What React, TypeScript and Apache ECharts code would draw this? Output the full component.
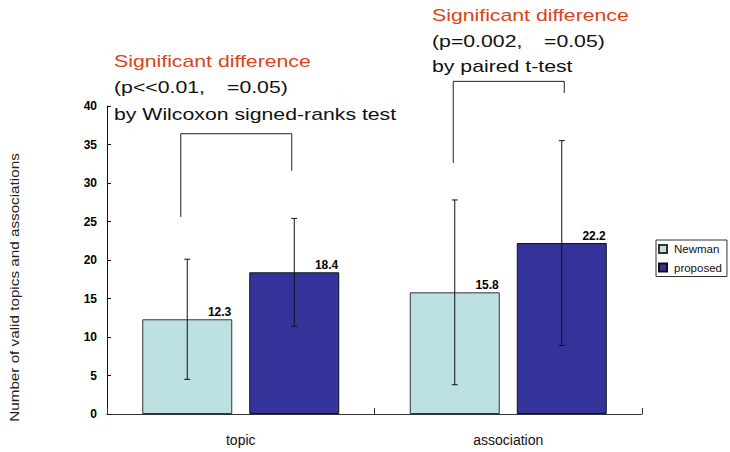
import React, { useEffect, useRef } from "react";
import * as echarts from "echarts";

const categories = ["topic", "association"];
const seriesNames = ["Newman", "proposed"];
const newmanValues = [12.3, 15.8];
const proposedValues = [18.4, 22.2];
const newmanErrLow = [4.5, 3.8];
const newmanErrHigh = [20.1, 27.8];
const proposedErrLow = [11.4, 8.9];
const proposedErrHigh = [25.4, 35.5];
const yMin = 0;
const yMax = 40;
const yInterval = 5;
const bracketLeftEnd = [25.6, 32.6];
const bracketTop = [36.4, 43.2];
const bracketRightEnd = [31.6, 41.7];
const annotationTitles = ["Significant difference", "Significant difference"];
const annotationStatsA = ["(p<<0.01,", "(p=0.002,"];
const annotationStatsB = ["=0.05)", "=0.05)"];
const annotationTests = ["by Wilcoxon signed-ranks test", "by paired t-test"];
const yAxisTitle = "Number of valid topics and associations";

// layout / style constants
const BAR_W = 90;
const BAR_GAP = 17;
const SERIES_OFFSET = (BAR_W + BAR_GAP) / 2;
const BRACKET_LEFT_DX = [-60, -55];
const BRACKET_RIGHT_DX = [51, 56];
const ANNOT_X = [114, 432];
const ANNOT_X2 = [227, 544];
const ANNOT_Y = [
  [61.3, 87.3, 114],
  [15.7, 41.3, 66.7],
];
const FONT = "'Liberation Sans', Arial, sans-serif";
const RED = "#d8431b";

export default function App() {
  const ref = useRef<HTMLDivElement>(null);

  useEffect(() => {
    if (!ref.current) return;
    const chart = echarts.init(ref.current, null, { renderer: "svg" });

    const errData: any[] = [];
    categories.forEach((_, i) => {
      errData.push([i, newmanErrLow[i], newmanErrHigh[i], -1]);
      errData.push([i, proposedErrLow[i], proposedErrHigh[i], 1]);
    });
    const bracketData = categories.map((_, i) => [
      i,
      bracketLeftEnd[i],
      bracketTop[i],
      bracketRightEnd[i],
    ]);

    const barLabel = {
      show: true,
      position: ["100%", 0],
      align: "right",
      verticalAlign: "bottom",
      offset: [-1, -1],
      fontSize: 12,
      fontWeight: "bold",
      fontFamily: FONT,
      color: "#000",
    };

    const graphic: any[] = [];
    for (let g = 0; g < 2; g++) {
      const base = { scaleX: 1.25, silent: true };
      const st = { fontSize: 17, fontFamily: FONT, align: "left", verticalAlign: "middle" };
      graphic.push({ type: "text", x: ANNOT_X[g], y: ANNOT_Y[g][0], ...base, style: { ...st, text: annotationTitles[g], fill: RED } });
      graphic.push({ type: "text", x: ANNOT_X[g], y: ANNOT_Y[g][1], ...base, style: { ...st, text: annotationStatsA[g], fill: "#111" } });
      graphic.push({ type: "text", x: ANNOT_X2[g], y: ANNOT_Y[g][1], ...base, style: { ...st, text: annotationStatsB[g], fill: "#111" } });
      graphic.push({ type: "text", x: ANNOT_X[g], y: ANNOT_Y[g][2], ...base, style: { ...st, text: annotationTests[g], fill: "#111" } });
    }
    graphic.push({
      type: "text",
      x: 15,
      y: 287.5,
      rotation: Math.PI / 2,
      scaleX: 1.22,
      silent: true,
      style: { text: yAxisTitle, fontSize: 12.5, fontFamily: FONT, fill: "#222", align: "center", verticalAlign: "middle" },
    });

    chart.setOption({
      animation: false,
      backgroundColor: "#fff",
      grid: { left: 107, right: 88, top: 106, bottom: 38, containLabel: false },
      legend: {
        data: seriesNames,
        orient: "vertical",
        left: 656,
        top: 240,
        icon: "rect",
        itemWidth: 8,
        itemHeight: 8,
        itemGap: 6.5,
        borderColor: "#333",
        borderWidth: 1,
        borderRadius: 0,
        padding: [3, 5, 3, 2],
        textStyle: { fontSize: 11.5, fontFamily: FONT, color: "#111", padding: [0, 0, 0, 2] },
      },
      xAxis: {
        type: "category",
        data: categories,
        axisLine: { show: true, lineStyle: { color: "#333", width: 1 } },
        axisTick: { show: true, inside: true, length: 6, lineStyle: { color: "#333" } },
        axisLabel: { fontSize: 14, fontFamily: FONT, color: "#111", margin: 19 },
        splitLine: { show: false },
      },
      yAxis: {
        type: "value",
        min: yMin,
        max: yMax,
        interval: yInterval,
        axisLine: { show: true, lineStyle: { color: "#111", width: 1 } },
        axisTick: { show: true, inside: true, length: 4, lineStyle: { color: "#111" } },
        axisLabel: { fontSize: 12, fontWeight: "bold", fontFamily: FONT, color: "#000", margin: 10 },
        splitLine: { show: false },
      },
      graphic,
      series: [
        {
          name: seriesNames[0],
          type: "bar",
          data: newmanValues,
          barWidth: BAR_W,
          barGap: `${(BAR_GAP / BAR_W) * 100}%`,
          itemStyle: { color: "#bde0e3", borderColor: "#333", borderWidth: 1 },
          label: barLabel,
        },
        {
          name: seriesNames[1],
          type: "bar",
          data: proposedValues,
          barWidth: BAR_W,
          barGap: `${(BAR_GAP / BAR_W) * 100}%`,
          itemStyle: { color: "#333399", borderColor: "#111", borderWidth: 1 },
          label: barLabel,
        },
        {
          name: "errors",
          type: "custom",
          clip: false,
          z: 5,
          data: errData,
          encode: { x: 0, y: [1, 2] },
          renderItem: (params: any, api: any) => {
            const idx = api.value(0);
            const side = api.value(3);
            const lo = api.coord([idx, api.value(1)]);
            const hi = api.coord([idx, api.value(2)]);
            const x = lo[0] + side * SERIES_OFFSET;
            const st = { stroke: "#111", lineWidth: 1 };
            return {
              type: "group",
              children: [
                { type: "line", shape: { x1: x, y1: lo[1], x2: x, y2: hi[1] }, style: st },
                { type: "line", shape: { x1: x - 3, y1: lo[1], x2: x + 3, y2: lo[1] }, style: st },
                { type: "line", shape: { x1: x - 3, y1: hi[1], x2: x + 3, y2: hi[1] }, style: st },
              ],
            };
          },
        },
        {
          name: "brackets",
          type: "custom",
          clip: false,
          z: 5,
          data: bracketData,
          encode: { x: 0, y: [1, 2, 3] },
          renderItem: (params: any, api: any) => {
            const idx = api.value(0);
            const l = api.coord([idx, api.value(1)]);
            const t = api.coord([idx, api.value(2)]);
            const r = api.coord([idx, api.value(3)]);
            const xl = l[0] + BRACKET_LEFT_DX[idx];
            const xr = l[0] + BRACKET_RIGHT_DX[idx];
            return {
              type: "polyline",
              shape: { points: [[xl, l[1]], [xl, t[1]], [xr, t[1]], [xr, r[1]]] },
              style: { stroke: "#222", lineWidth: 1, fill: "none" },
            };
          },
        },
      ],
    });

    return () => chart.dispose();
  }, []);

  return (
    <div
      ref={ref}
      style={{ position: "fixed", left: 0, top: 0, width: 730, height: 452, background: "#fff" }}
    />
  );
}
